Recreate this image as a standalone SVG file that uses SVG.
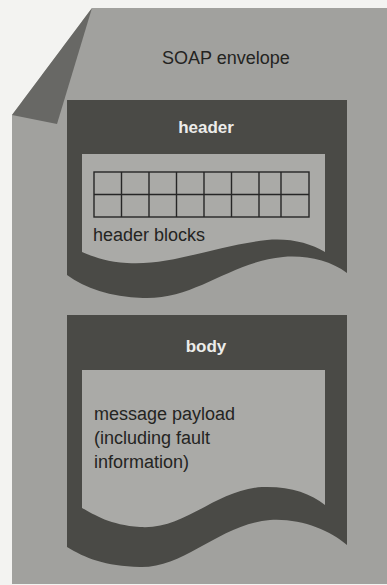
<svg xmlns="http://www.w3.org/2000/svg" width="387" height="585" viewBox="0 0 387 585">
<style>
.dark{fill:#4a4a46}
.panel{fill:#aaaaa7}
.page{fill:#a1a19e}
.grid{fill:none;stroke:#262626;stroke-width:1.4}
.t{font-family:"Liberation Sans",Arial,sans-serif;font-size:18px;fill:#242422}
.w{font-family:"Liberation Sans",Arial,sans-serif;font-size:17px;fill:#ececea;text-anchor:middle;font-weight:bold}
</style>
<rect x="0" y="0" width="387" height="585" fill="#f3f3f1"/>
<g id="envelope">
<polygon class="page" points="92,8 387,8 387,584 12,584 12,115"/>
<polygon points="92,8 12,115 57,124" fill="#686865"/>
<text class="t" x="226" y="64" text-anchor="middle" font-size="18.5">SOAP envelope</text>
</g>
<g id="header">
<path class="dark" d="M67,100 H347 V273 C330,260 305,255 283,257 C230,262 195,300 143,298 C110,297 85,288 67,275 Z"/>
<path class="panel" d="M82,154 H325 V252 C310,243 290,238 267,240 C215,246 170,266 127,263 C105,262 92,256 82,252 Z"/>
<text class="w" x="206" y="133">header</text>
<rect class="grid" x="94" y="172" width="215" height="45"/>
<path class="grid" d="M94,194.5 H309 M121.5,172 V217 M149,172 V217 M176.5,172 V217 M204,172 V217 M231.5,172 V217 M259,172 V217 M281,172 V217"/>
<text class="t" x="93" y="241">header blocks</text>
</g>
<g id="body">
<path class="dark" d="M67,315 H347 V545 C330,530 300,518 270,520 C220,524 185,568 140,567 C105,566 85,558 67,547 Z"/>
<path class="panel" d="M82,370 H325 V505 C310,493 290,486 262,487 C215,490 185,530 140,527 C110,525 95,515 82,508 Z"/>
<text class="w" x="206" y="352">body</text>
<text class="t" x="94" y="420">message payload</text>
<text class="t" x="94" y="444">(including fault</text>
<text class="t" x="94" y="468">information)</text>
</g>
<g id="connectors"/>
</svg>
